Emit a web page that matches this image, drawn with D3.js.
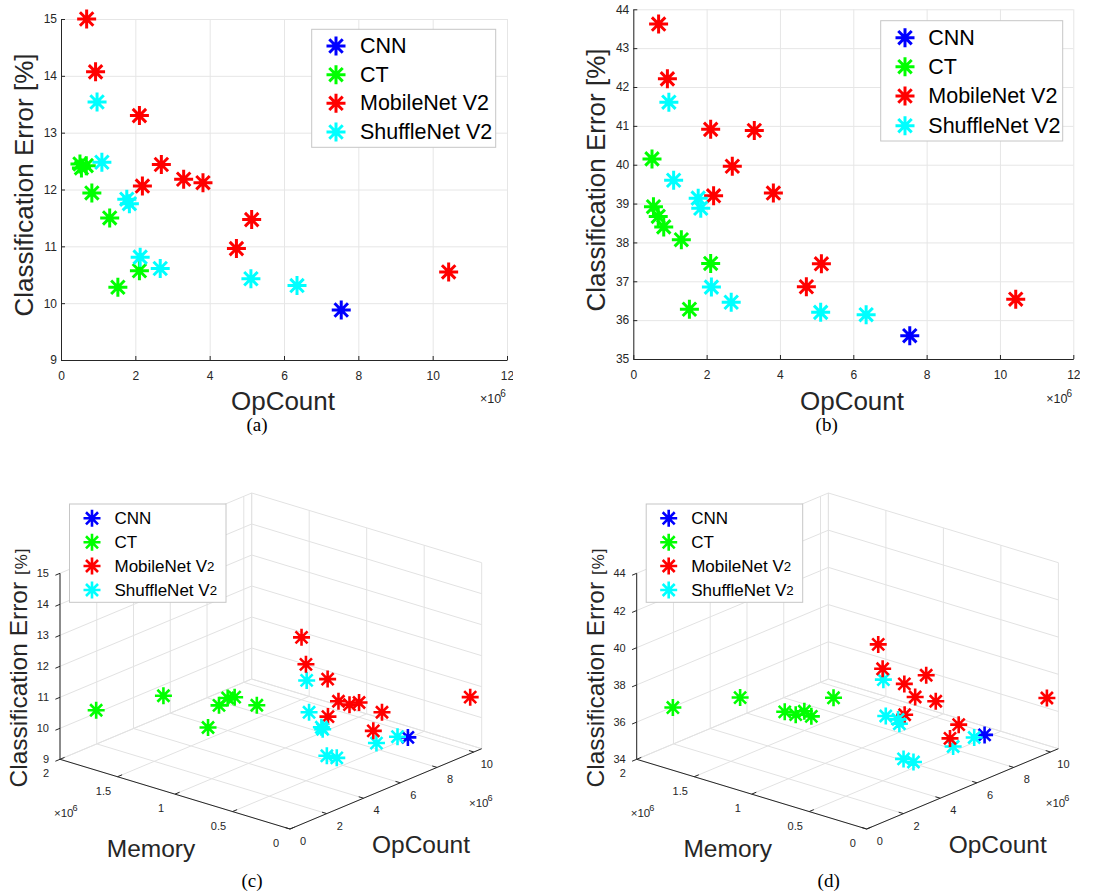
<!DOCTYPE html>
<html><head><meta charset="utf-8">
<script src="https://cdn.jsdelivr.net/npm/d3@7"></script>
<style>
body{margin:0;background:#fff}
svg{display:block}
text{font-family:"Liberation Sans",Arial,Helvetica,sans-serif}
text.cap{font-family:"Liberation Serif","Times New Roman",serif}
</style>
</head><body>
<svg id="chart" width="1102" height="892"></svg>
<script>
// ---------------- DATA ----------------
const seriesNames = ["CNN", "CT", "MobileNet V2", "ShuffleNet V2"];
const seriesColors = ["#0000ff", "#00ff00", "#ff0000", "#00ffff"];

// OpCount (x 10^6)
const opCountCNN = [7.54];
const opCountCT = [0.51, 0.55, 0.68, 0.83, 1.31, 2.11, 1.53];
const opCountMobileNet = [0.69, 0.93, 2.11, 2.70, 2.19, 3.30, 3.82, 5.13, 4.72, 10.43];
const opCountShuffleNet = [0.97, 1.10, 1.77, 1.84, 2.13, 2.67, 5.11, 6.35];

// Memory (x 10^6)
const memoryCNN = [0.18];
const memoryCT = [0.37, 0.63, 0.59, 0.75, 1.31, 1.05, 1.93];
const memoryMobileNet = [0.01, 0.01, 0.01, 0.01, 0.02, 0.01, 0.01, 0.02, 0.03, 0.10];
const memoryShuffleNet = [0.01, 0.01, 0.01, 0.01, 0.02, 0.02, 0.065, 0.08];

// Classification error [%], panels (a)/(c)
const errACNN = [9.88];
const errACT = [12.45, 12.38, 12.42, 11.94, 11.50, 10.57, 10.28];
const errAMobileNet = [15.00, 14.07, 13.30, 12.44, 12.06, 12.18, 12.12, 11.47, 10.96, 10.55];
const errAShuffleNet = [13.54, 12.48, 11.83, 11.75, 10.81, 10.61, 10.43, 10.31];

// Classification error [%], panels (b)/(d)
const errBCNN = [35.60];
const errBCT = [40.15, 38.92, 38.67, 38.40, 38.07, 37.46, 36.28];
const errBMobileNet = [43.62, 42.21, 40.91, 39.96, 39.20, 40.88, 39.27, 37.45, 36.86, 36.54];
const errBShuffleNet = [41.61, 39.60, 39.14, 38.88, 36.85, 36.46, 36.20, 36.14];

// Ticks
const opTicks2D = [0, 2, 4, 6, 8, 10, 12];
const errTicksA = [9, 10, 11, 12, 13, 14, 15];
const errTicksB = [35, 36, 37, 38, 39, 40, 41, 42, 43, 44];
const opTicks3D = [0, 2, 4, 6, 8, 10];
const memTicks3D = [0, 0.5, 1, 1.5, 2];
const memTickLabels3D = ["0", "0.5", "1", "1.5", "2"];
const zTicksC = [9, 10, 11, 12, 13, 14, 15];
const zTicksD = [34, 36, 38, 40, 42, 44];

// ---------------- HELPERS ----------------
const svg = d3.select("#chart");
const opList = [opCountCNN, opCountCT, opCountMobileNet, opCountShuffleNet];
const memList = [memoryCNN, memoryCT, memoryMobileNet, memoryShuffleNet];
const errAList = [errACNN, errACT, errAMobileNet, errAShuffleNet];
const errBList = [errBCNN, errBCT, errBMobileNet, errBShuffleNet];
const fmtInt = d3.format("d");

function asterisk(r) {
  const d = r * Math.SQRT1_2;
  return `M${-r},0L${r},0M0,${-r}L0,${r}M${-d},${-d}L${d},${d}M${-d},${d}L${d},${-d}`;
}
const TXT = "#262626";

function legendLabel(sel, name, size, smallTwo) {
  if (smallTwo && name.endsWith("2")) {
    sel.text(name.slice(0, -1));
    sel.append("tspan").attr("font-size", size * 0.78).text("2");
  } else sel.text(name);
}

function drawLegend(g, box, markerX, textX, rows, fontSize, r, sw, smallTwo) {
  g.append("rect").attr("x", box[0]).attr("y", box[1])
    .attr("width", box[2] - box[0]).attr("height", box[3] - box[1])
    .attr("fill", "#fff").attr("stroke", "#c6c6c6").attr("stroke-width", 1);
  seriesNames.forEach((n, i) => {
    g.append("path").attr("d", asterisk(r))
      .attr("transform", `translate(${markerX},${rows[i]})`)
      .attr("stroke", seriesColors[i]).attr("stroke-width", sw).attr("fill", "none");
    const t = g.append("text").attr("x", textX).attr("y", rows[i])
      .attr("dominant-baseline", "central").attr("font-size", fontSize).attr("fill", "#000");
    legendLabel(t, n, fontSize, smallTwo);
  });
}

function superLabel(g, x, y, size) {
  const t = g.append("text").attr("x", x).attr("y", y).attr("font-size", size).attr("fill", TXT);
  t.append("tspan").text("\u00d710");
  t.append("tspan").attr("font-size", size * 0.8).attr("dy", -size * 0.5).attr("dx", -1).text("6");
}

// ---------------- 2D PANELS ----------------
function draw2D(cfg) {
  const clipId = "clip" + cfg.id;
  svg.append("clipPath").attr("id", clipId).append("rect")
    .attr("x", cfg.clip[0]).attr("y", 0).attr("width", cfg.clip[1] - cfg.clip[0]).attr("height", 460);
  const g = svg.append("g").attr("clip-path", `url(#${clipId})`);
  const x = d3.scaleLinear().domain([0, 12]).range([cfg.x0, cfg.x1]);
  const y = d3.scaleLinear().domain(cfg.yDomain).range([cfg.yBot, cfg.yTop]);
  const H = cfg.yBot - cfg.yTop, W = cfg.x1 - cfg.x0;

  // grid
  g.append("g").attr("transform", `translate(0,${cfg.yBot})`)
    .call(d3.axisBottom(x).tickValues(opTicks2D).tickSize(-H).tickFormat(""))
    .call(s => { s.select(".domain").remove(); s.selectAll("line").attr("stroke", "#e6e6e6"); });
  g.append("g").attr("transform", `translate(${cfg.x0},0)`)
    .call(d3.axisLeft(y).tickValues(cfg.yTicks).tickSize(-W).tickFormat(""))
    .call(s => { s.select(".domain").remove(); s.selectAll("line").attr("stroke", "#e6e6e6"); });

  // axes
  const styleAxis = s => {
    s.attr("font-size", 12);
    s.select(".domain").attr("stroke", TXT);
    s.selectAll("line").attr("stroke", TXT);
    s.selectAll("text").attr("fill", TXT);
  };
  g.append("g").attr("transform", `translate(0,${cfg.yBot})`)
    .call(d3.axisBottom(x).tickValues(opTicks2D).tickFormat(fmtInt)
      .tickSize(-4).tickSizeOuter(0).tickPadding(11))
    .call(styleAxis);
  g.append("g").attr("transform", `translate(${cfg.x0},0)`)
    .call(d3.axisLeft(y).tickValues(cfg.yTicks).tickFormat(fmtInt)
      .tickSize(-4).tickSizeOuter(0).tickPadding(4))
    .call(styleAxis);

  // points
  opList.forEach((ops, i) => {
    g.append("g").selectAll("path").data(ops.map((o, j) => [o, cfg.err[i][j]])).join("path")
      .attr("d", asterisk(9.5))
      .attr("transform", d => `translate(${x(d[0])},${y(d[1])})`)
      .attr("stroke", seriesColors[i]).attr("stroke-width", 3).attr("fill", "none");
  });

  // legend
  drawLegend(g, cfg.legBox, cfg.legMarkerX, cfg.legTextX, cfg.legRows, 21.5, 9.5, 3, false);

  // labels
  superLabel(g, cfg.x1 - 27, 403, 12.5);
  g.append("text").attr("x", cfg.xTitleX).attr("y", 410).attr("text-anchor", "middle")
    .attr("font-size", 26).attr("fill", TXT).text("OpCount");
  g.append("text").attr("transform", `translate(${cfg.yTitleX},${cfg.yTitleY}) rotate(-90)`)
    .attr("text-anchor", "middle").attr("font-size", 26).attr("fill", TXT)
    .text("Classification Error [%]");
  svg.append("text").attr("class", "cap").attr("x", cfg.capX).attr("y", 431)
    .attr("text-anchor", "middle").attr("font-size", 19)
    .attr("fill", "#000").text(cfg.caption);
}

draw2D({
  id: "a", clip: [0, 513], x0: 61, x1: 507, yTop: 19, yBot: 360,
  yDomain: [9, 15], yTicks: errTicksA, err: errAList,
  legBox: [311.7, 29.3, 495.7, 147.3], legMarkerX: 336, legTextX: 360,
  legRows: [46, 74.7, 103.3, 132],
  xTitleX: 283, yTitleX: 32.5, yTitleY: 185, capX: 257, caption: "(a)"
});
draw2D({
  id: "b", clip: [540, 1080], x0: 633.3, x1: 1073.3, yTop: 9.3, yBot: 359,
  yDomain: [35, 44], yTicks: errTicksB, err: errBList,
  legBox: [880.7, 20.7, 1062.7, 141], legMarkerX: 905, legTextX: 928.3,
  legRows: [37.7, 66.7, 96, 125.7],
  xTitleX: 852, yTitleX: 604.5, yTitleY: 180, capX: 826.7, caption: "(b)"
});

// ---------------- 3D PANELS ----------------
function draw3D(cfg) {
  const g = svg.append("g");
  const OX = cfg.ox, OY = 829;
  const opMax = 10.43;
  const sO = d3.scaleLinear().domain([0, opMax]).range([0, 1]);
  const sM = d3.scaleLinear().domain([0, 2]).range([0, 1]);
  const sZ = d3.scaleLinear().domain(cfg.zDomain).range([0, 1]);
  const vO = [191.7, -80.3], vM = [-230, -69.7], vZ = [0, -186];
  const P = (o, m, z) => [
    OX + sO(o) * vO[0] + sM(m) * vM[0] + sZ(z) * vZ[0],
    OY + sO(o) * vO[1] + sM(m) * vM[1] + sZ(z) * vZ[1]
  ];
  const z0 = cfg.zDomain[0], z1 = cfg.zDomain[1];
  const line = (a, b, col, w) => g.append("line")
    .attr("x1", a[0]).attr("y1", a[1]).attr("x2", b[0]).attr("y2", b[1])
    .attr("stroke", col).attr("stroke-width", w);
  const GRID = "#e2e2e2";

  // floor grid
  opTicks3D.forEach(t => line(P(t, 0, z0), P(t, 2, z0), GRID, 1));
  line(P(opMax, 0, z0), P(opMax, 2, z0), GRID, 1);
  memTicks3D.forEach(m => line(P(0, m, z0), P(opMax, m, z0), GRID, 1));
  // back-left wall (memory = 2)
  opTicks3D.forEach(t => line(P(t, 2, z0), P(t, 2, z1), GRID, 1));
  line(P(opMax, 2, z0), P(opMax, 2, z1), GRID, 1);
  cfg.zTicks.forEach(z => line(P(0, 2, z), P(opMax, 2, z), GRID, 1));
  // back-right wall (opcount = max)
  memTicks3D.forEach(m => line(P(opMax, m, z0), P(opMax, m, z1), GRID, 1));
  cfg.zTicks.forEach(z => line(P(opMax, 0, z), P(opMax, 2, z), GRID, 1));

  // axes
  line(P(0, 0, z0), P(0, 2, z0), TXT, 1);
  line(P(0, 0, z0), P(opMax, 0, z0), TXT, 1);
  line(P(0, 2, z0), P(0, 2, z1), TXT, 1);

  const uO = [vO[0] / Math.hypot(...vO), vO[1] / Math.hypot(...vO)];
  const uM = [vM[0] / Math.hypot(...vM), vM[1] / Math.hypot(...vM)];
  const TL = 5;
  // z ticks
  cfg.zTicks.forEach(z => {
    const p = P(0, 2, z);
    line(p, [p[0] - uO[0] * TL, p[1] - uO[1] * TL], TXT, 1);
    g.append("text").attr("x", p[0] - 11).attr("y", p[1]).attr("text-anchor", "end")
      .attr("dominant-baseline", "central").attr("font-size", 11).attr("fill", TXT).text(z);
  });
  // memory ticks
  memTicks3D.forEach((m, i) => {
    const p = P(0, m, z0);
    line(p, [p[0] + uO[0] * TL, p[1] + uO[1] * TL], TXT, 1);
    g.append("text").attr("x", p[0] - 14).attr("y", p[1] + 14).attr("text-anchor", "middle")
      .attr("dominant-baseline", "central").attr("font-size", 11).attr("fill", TXT)
      .text(memTickLabels3D[i]);
  });
  // opcount ticks
  opTicks3D.forEach(t => {
    const p = P(t, 0, z0);
    line(p, [p[0] + uM[0] * TL, p[1] + uM[1] * TL], TXT, 1);
    g.append("text").attr("x", p[0] + 13).attr("y", p[1] + 12).attr("text-anchor", "middle")
      .attr("dominant-baseline", "central").attr("font-size", 11).attr("fill", TXT).text(t);
  });
  superLabel(g, OX - 236, 817, 11.5);
  superLabel(g, OX + 179, 807, 11.5);

  // points, far ones first
  const pts = [];
  opList.forEach((ops, i) => ops.forEach((o, j) =>
    pts.push({ o, m: memList[i][j], z: cfg.err[i][j], c: seriesColors[i] })));
  pts.sort((a, b) => (sO(b.o) + sM(b.m)) - (sO(a.o) + sM(a.m)));
  g.append("g").selectAll("path").data(pts).join("path")
    .attr("d", asterisk(8.5))
    .attr("transform", d => { const p = P(d.o, d.m, d.z); return `translate(${p[0]},${p[1]})`; })
    .attr("stroke", d => d.c).attr("stroke-width", 2.6).attr("fill", "none");

  // legend
  const lx = OX - 290;
  drawLegend(g, [lx + 69.5, 504, lx + 226, 602.3], lx + 92, lx + 114.5,
    [518.3, 542.3, 566, 590], 17, 8.5, 2.6, true);

  // titles
  g.append("text").attr("x", OX - 139).attr("y", 857).attr("text-anchor", "middle")
    .attr("font-size", 24.5).attr("fill", TXT).text("Memory");
  g.append("text").attr("x", OX + 131).attr("y", 853).attr("text-anchor", "middle")
    .attr("font-size", 24.5).attr("fill", TXT).text("OpCount");
  const zt = g.append("text").attr("transform", `translate(${OX - 263},667.5) rotate(-90)`)
    .attr("text-anchor", "middle").attr("font-size", 24.5).attr("fill", TXT);
  zt.append("tspan").text("Classification Error ");
  zt.append("tspan").attr("font-size", 17).attr("letter-spacing", 1).text("[%]");
  g.append("text").attr("class", "cap").attr("x", OX - 38).attr("y", 887)
    .attr("text-anchor", "middle").attr("font-size", 19)
    .attr("fill", "#000").text(cfg.caption);
}

draw3D({ ox: 290, zDomain: [9, 15], zTicks: zTicksC, err: errAList, caption: "(c)" });
draw3D({ ox: 866.7, zDomain: [34, 44], zTicks: zTicksD, err: errBList, caption: "(d)" });
</script>
</body></html>
